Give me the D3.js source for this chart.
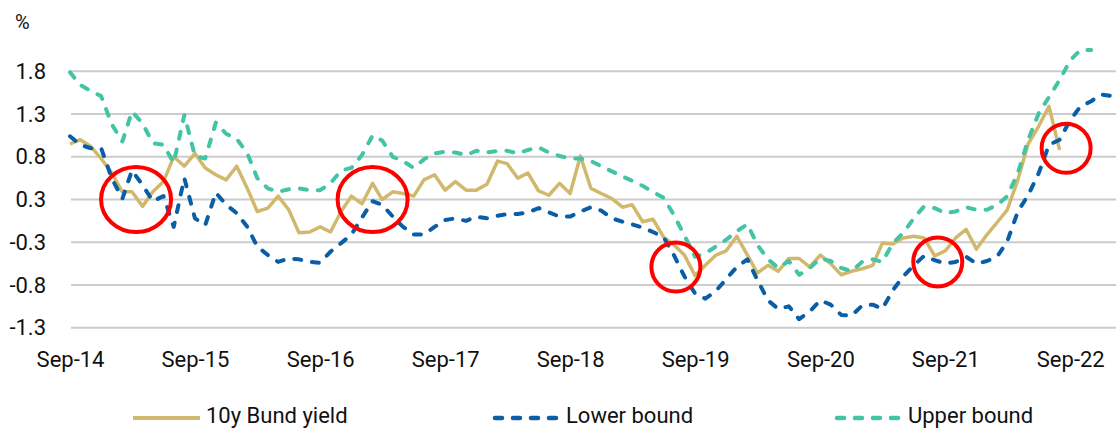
<!DOCTYPE html>
<html>
<head>
<meta charset="utf-8">
<script src="https://cdn.jsdelivr.net/npm/d3@7"></script>
<style>
  body { margin: 0; background: #fff; }
  #container { width: 1116px; height: 428px; }
  text { font-family: Roboto, "Noto Sans", sans-serif; fill: #111; }
</style>
</head>
<body>
<div id="container"></div>
<script>
// monthly data, Sep-14 onwards
const startMonth = new Date(2014, 8, 1)

const bundYield = [0.90,0.95,0.87,0.73,0.56,0.34,0.34,0.17,0.34,0.46,0.75,0.64,0.79,0.62,0.54,0.48,0.64,0.38,0.11,0.15,
  0.29,0.13,-0.14,-0.13,-0.07,-0.13,0.11,0.29,0.20,0.44,0.25,0.34,0.32,0.29,0.48,0.54,0.36,0.46,0.36,0.36,
  0.43,0.70,0.67,0.50,0.56,0.35,0.30,0.44,0.32,0.76,0.38,0.32,0.26,0.16,0.19,-0.01,0.02,-0.19,-0.28,-0.40,
  -0.64,-0.52,-0.40,-0.35,-0.18,-0.40,-0.61,-0.52,-0.59,-0.44,-0.44,-0.54,-0.40,-0.50,-0.63,-0.59,-0.56,-0.52,-0.26,-0.27,
  -0.20,-0.18,-0.20,-0.41,-0.35,-0.20,-0.10,-0.33,-0.16,-0.01,0.13,0.48,0.90,1.11,1.34,0.83]

const lowerBound = [0.99,0.89,0.85,0.85,0.50,0.26,0.59,0.42,0.23,0.29,-0.07,0.50,0.03,-0.05,0.33,0.19,0.09,-0.07,-0.30,-0.40,
  -0.48,-0.44,-0.45,-0.48,-0.49,-0.36,-0.26,-0.16,0.04,0.23,0.19,0.05,-0.07,-0.16,-0.16,-0.07,0.01,0.03,0.00,0.05,
  0.03,0.06,0.08,0.08,0.10,0.15,0.10,0.05,0.05,0.11,0.16,0.12,0.03,-0.01,-0.04,-0.08,-0.13,-0.19,-0.40,-0.65,
  -0.85,-0.91,-0.82,-0.68,-0.54,-0.45,-0.69,-0.93,-1.03,-1.00,-1.15,-1.06,-0.93,-0.98,-1.10,-1.11,-0.99,-0.98,-1.03,-0.81,
  -0.65,-0.52,-0.41,-0.46,-0.50,-0.48,-0.42,-0.50,-0.47,-0.41,-0.24,0.11,0.30,0.56,0.89,0.95,1.18,1.34,1.40,1.48,
  1.46]

const upperBound = [1.74,1.59,1.52,1.46,1.13,0.93,1.28,1.14,0.91,0.89,0.68,1.24,0.76,0.73,1.15,1.02,0.96,0.79,0.50,0.38,
  0.34,0.37,0.38,0.36,0.36,0.44,0.59,0.62,0.77,1.00,0.94,0.75,0.70,0.62,0.72,0.79,0.81,0.80,0.77,0.82,
  0.80,0.82,0.82,0.79,0.83,0.86,0.80,0.76,0.73,0.73,0.70,0.64,0.58,0.52,0.47,0.41,0.34,0.27,0.07,-0.17,
  -0.42,-0.38,-0.30,-0.22,-0.12,-0.04,-0.28,-0.45,-0.55,-0.47,-0.63,-0.55,-0.44,-0.47,-0.55,-0.59,-0.48,-0.45,-0.48,-0.26,
  -0.14,0.03,0.17,0.15,0.09,0.11,0.16,0.13,0.13,0.19,0.29,0.56,0.95,1.26,1.45,1.65,1.88,2.00,2.00]

const seriesNames = ["10y Bund yield", "Lower bound", "Upper bound"]

const yTicks = [-1.25, -0.75, -0.25, 0.25, 0.75, 1.25, 1.75]
const yTickLabels = ["-1.3", "-0.8", "-0.3", "0.3", "0.8", "1.3", "1.8"]
const xTickLabels = ["Sep-14","Sep-15","Sep-16","Sep-17","Sep-18","Sep-19","Sep-20","Sep-21","Sep-22"]

// red circles highlighting the crossings
const circleDates = ["2015-03-13", "2017-02-01", "2019-07-07", "2021-08-10", "2022-08-20"]
const circleValues = [0.25, 0.25, -0.54, -0.48, 0.85]

const width = 1116, height = 428

let viz = d3.select("#container").append("svg")
    .attr("width", width)
    .attr("height", height)

const months = d3.range(101).map(i => d3.timeMonth.offset(startMonth, i))

const x = d3.scaleTime()
    .domain([startMonth, months[100]])
    .range([70, 1112])
const y = d3.scaleLinear()
    .domain([-1.25, 2.0])
    .range([327.7, 50])

// gridlines
viz.append("g").selectAll("line").data(yTicks).enter().append("line")
    .attr("x1", 71)
    .attr("x2", 1116)
    .attr("y1", d => y(d))
    .attr("y2", d => y(d))
    .attr("stroke", "#cccccc")
    .attr("stroke-width", 2)

// y labels
let yAxis = viz.append("g")
    .attr("transform", "translate(46,0)")
    .call(d3.axisLeft(y).tickValues(yTicks).tickSize(0).tickPadding(0)
        .tickFormat((d, i) => yTickLabels[i]))
yAxis.select(".domain").remove()
yAxis.selectAll("text").style("font-size", "22px").attr("fill", "#111")

viz.append("text")
    .attr("x", 15)
    .attr("y", 29)
    .style("font-size", "20px")
    .text("%")

// x labels
const xTickDates = xTickLabels.map((d, i) => d3.timeMonth.offset(startMonth, 12 * i))
let xAxis = viz.append("g")
    .attr("transform", "translate(0,351)")
    .call(d3.axisBottom(x).tickValues(xTickDates).tickSize(0).tickPadding(0)
        .tickFormat((d, i) => xTickLabels[i]))
xAxis.select(".domain").remove()
xAxis.selectAll("text").style("font-size", "22px").attr("fill", "#111").attr("dy", "0.71em")

// lines
viz.append("clipPath").attr("id", "plotClip")
    .append("rect").attr("x", 60).attr("y", 47).attr("width", 1056).attr("height", 300)

const line = d3.line()
    .x((d, i) => x(months[i]))
    .y(d => y(d))

let plot = viz.append("g").attr("clip-path", "url(#plotClip)")

const styles = [
    {data: bundYield, color: "#d2b86c", w: 3.5, dash: null},
    {data: lowerBound, color: "#0a5ea6", w: 4, dash: "7,11"},
    {data: upperBound, color: "#43c4a4", w: 4, dash: "7,11"}
]

styles.forEach(s => {
    plot.append("path")
        .attr("d", line(s.data))
        .attr("fill", "none")
        .attr("stroke", s.color)
        .attr("stroke-width", s.w)
        .attr("stroke-linejoin", "round")
        .attr("stroke-linecap", s.dash ? "round" : "butt")
        .attr("stroke-dasharray", s.dash)
})

// red circles
const parse = d3.timeParse("%Y-%m-%d")
viz.append("g").selectAll("ellipse").data(circleDates).enter().append("ellipse")
    .attr("cx", d => x(parse(d)))
    .attr("cy", (d, i) => y(circleValues[i]))
    .attr("rx", (d, i) => i < 2 ? 35 : 24.5)
    .attr("ry", (d, i) => i < 2 ? 32.5 : 24.5)
    .attr("fill", "none")
    .attr("stroke", "#ff0000")
    .attr("stroke-width", 4)

// legend
const legendX = [133, 493, 835]
let legend = viz.append("g")
styles.forEach((s, i) => {
    legend.append("line")
        .attr("x1", legendX[i] + (s.dash ? 2 : 0))
        .attr("x2", legendX[i] + 67)
        .attr("y1", 418)
        .attr("y2", 418)
        .attr("stroke", s.color)
        .attr("stroke-width", s.w + 0.5)
        .attr("stroke-linecap", s.dash ? "round" : "butt")
        .attr("stroke-dasharray", s.dash)
    legend.append("text")
        .attr("x", legendX[i] + 73)
        .attr("y", 423)
        .style("font-size", "22px")
        .text(seriesNames[i])
})
</script>
</body>
</html>
